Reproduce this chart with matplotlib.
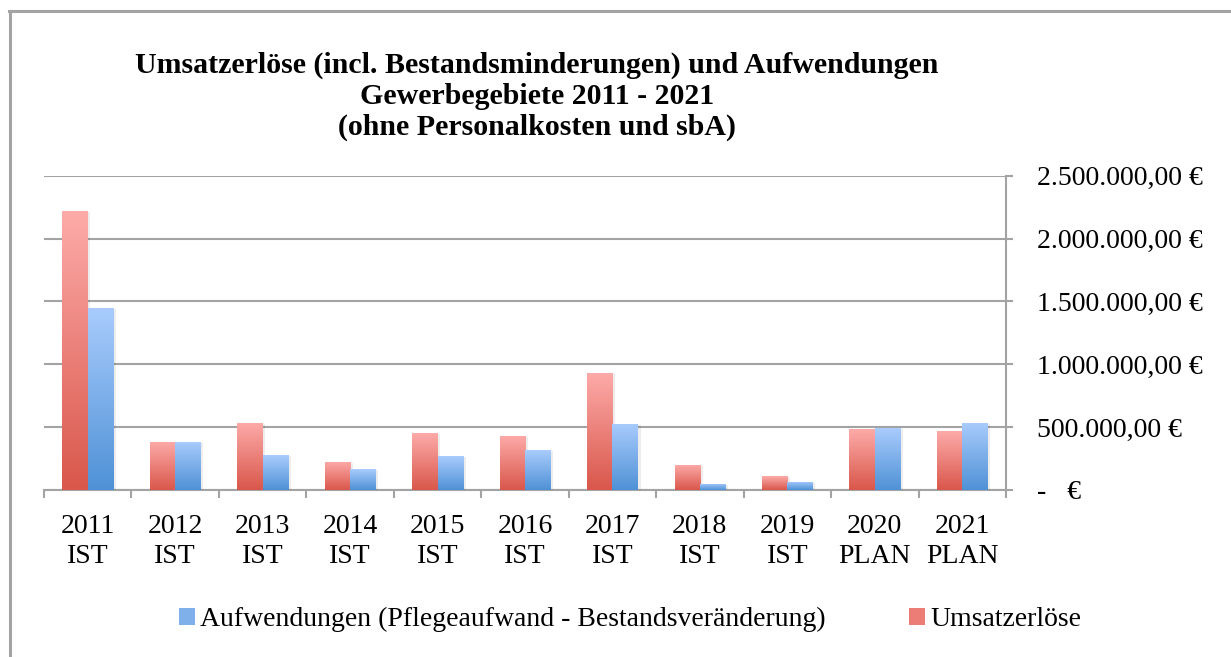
import numpy as np
import matplotlib
matplotlib.use("Agg")
import matplotlib.pyplot as plt
from matplotlib.colors import LinearSegmentedColormap
from matplotlib.patches import Patch
from matplotlib.lines import Line2D
import matplotlib.patheffects as pe

# Daten
jahre = ["2011", "2012", "2013", "2014", "2015", "2016", "2017", "2018", "2019", "2020", "2021"]
status = ["IST", "IST", "IST", "IST", "IST", "IST", "IST", "IST", "IST", "PLAN", "PLAN"]
umsatzerloese = [2219000, 382000, 533000, 223000, 453000, 430000, 931000, 199000, 111000, 485000, 469000]
aufwendungen = [1448000, 382000, 278000, 167000, 270000, 318000, 525000, 48000, 64000, 493000, 533000]
y_ticks = [0, 500000, 1000000, 1500000, 2000000, 2500000]

titel = ("Umsatzerlöse (incl. Bestandsminderungen) und Aufwendungen\n"
         "Gewerbegebiete 2011 - 2021\n"
         "(ohne Personalkosten und sbA)")
label_auf = "Aufwendungen (Pflegeaufwand - Bestandsveränderung)"
label_ums = "Umsatzerlöse"

plt.rcParams['font.family'] = ['Liberation Serif', 'DejaVu Serif']

rot_cmap = LinearSegmentedColormap.from_list("rot", ["#d9574b", "#fdaba9"])
blau_cmap = LinearSegmentedColormap.from_list("blau", ["#4f91d6", "#a9ccfd"])
grau = "#a3a3a3"


def fmt_euro(v):
    if v == 0:
        return "-   €"
    s = f"{v:,.2f}"
    s = s.replace(",", "X").replace(".", ",").replace("X", ".")
    return s + " €"


fig = plt.figure(figsize=(12.31, 6.57), dpi=100)
ax = fig.add_axes([0.0357, 0.2542, 0.7815, 0.4784])

x = np.arange(len(jahre))
w = 0.29
bars_r = ax.bar(x - w / 2, umsatzerloese, width=w, color="#ec7d76", zorder=3)
bars_b = ax.bar(x + w / 2, aufwendungen, width=w, color="#7fb0ea", zorder=3)

# Farbverlauf je Balken (unten dunkel, oben hell)
grad = np.linspace(0, 1, 256).reshape(-1, 1)
for bars, cm in ((bars_r, rot_cmap), (bars_b, blau_cmap)):
    for p in bars:
        p.set_path_effects([pe.SimplePatchShadow(offset=(2, -1), shadow_rgbFace="#000000", alpha=0.07),
                            pe.Normal()])
        x0, y0 = p.get_x(), p.get_y()
        im = ax.imshow(grad, cmap=cm, origin="lower", aspect="auto",
                       extent=[x0, x0 + p.get_width(), y0, y0 + p.get_height()], zorder=4)
        im.set_clip_path(p)

ax.set_xlim(-0.5, len(jahre) - 0.5)
ax.set_ylim(0, 2500000)

# Achsen
for s in ("left", "top"):
    ax.spines[s].set_visible(False)
for s in ("right", "bottom"):
    ax.spines[s].set_color(grau)
    ax.spines[s].set_linewidth(1.5)
ax.yaxis.tick_right()
ax.set_yticks(y_ticks)
ax.set_yticklabels([fmt_euro(v) for v in y_ticks])
ax.tick_params(axis="y", which="major", length=5, width=1.5, color=grau, pad=17, labelsize=20)
ax.grid(axis="y", color=grau, linewidth=1.5, zorder=1)

ax.set_xticks(np.arange(len(jahre) + 1) - 0.5)
ax.set_xticklabels([])
ax.tick_params(axis="x", which="major", length=6, width=1.5, color=grau)
ax.set_xticks(x, minor=True)
ax.set_xticklabels([f"{j}\n{s}" for j, s in zip(jahre, status)], minor=True)
ax.tick_params(axis="x", which="minor", length=0, pad=17, labelsize=20)
for t in ax.get_xticklabels(minor=True):
    t.set_linespacing(1.3)

fig.text(0.436, 0.922, titel, ha="center", va="top", fontsize=21.5, fontweight="bold", linespacing=1.2)

handles = [Patch(facecolor="#7fb0ea"), Patch(facecolor="#ec7d76")]
fig.legend(handles, [label_auf, label_ums], loc="center", bbox_to_anchor=(0.512, 0.057),
           ncol=2, frameon=False, fontsize=20, handlelength=0.55, handleheight=0.55,
           handletextpad=0.2, columnspacing=3.0)

# Rahmen oben und links
fig.add_artist(Line2D([9 / 1231, 1], [1 - 11 / 657, 1 - 11 / 657], color=grau, linewidth=2.2,
                      transform=fig.transFigure))
fig.add_artist(Line2D([10 / 1231, 10 / 1231], [0, 1 - 11 / 657], color=grau, linewidth=2.2,
                      transform=fig.transFigure))

fig.savefig("out.png", dpi=100, facecolor="white")
